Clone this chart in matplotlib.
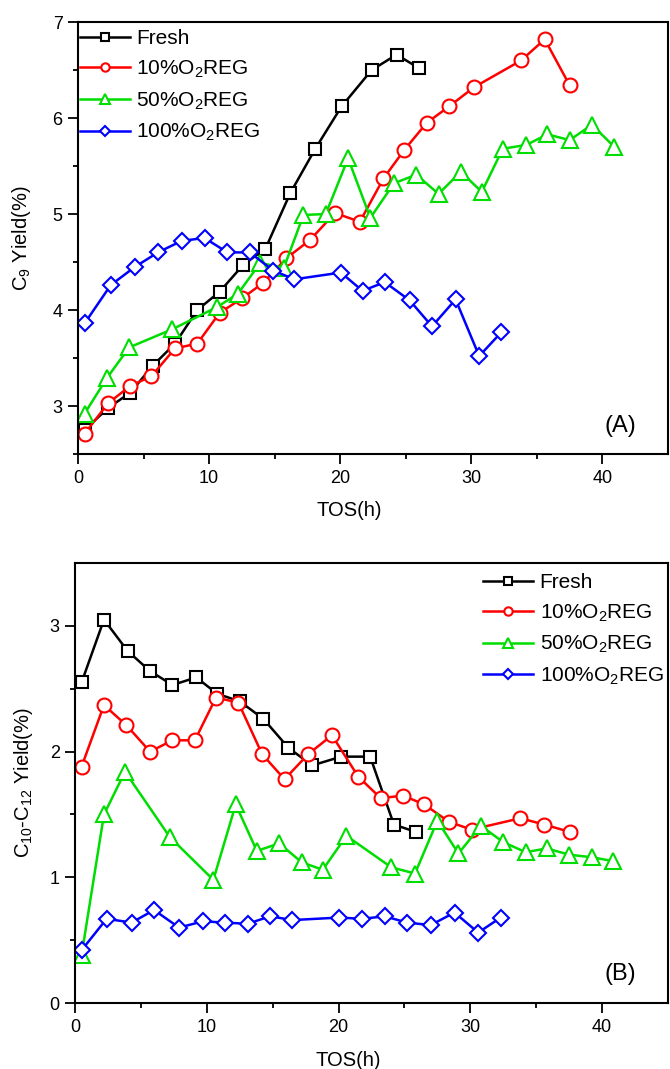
import numpy as np
import matplotlib
matplotlib.use("Agg")
import matplotlib.pyplot as plt

plt.rcParams['font.family'] = ['Liberation Sans', 'DejaVu Sans']
plt.rcParams['mathtext.default'] = 'regular'

labels = ['Fresh', '10%O$_2$REG', '50%O$_2$REG', '100%O$_2$REG']
colors = ['black', 'red', '#00dd00', '#0000ff']
markers = ['s', 'o', '^', 'D']
msizes = [9, 10, 11, 8.5]

# (A) C9 yield vs time on stream
c9_fresh_t = [0.5, 2.3, 4.0, 5.7, 7.4, 9.1, 10.8, 12.6, 14.3, 16.2, 18.1, 20.1, 22.4, 24.3, 26.0]
c9_fresh = [2.75, 2.98, 3.14, 3.42, 3.65, 4.0, 4.19, 4.47, 4.64, 5.22, 5.68, 6.12, 6.5, 6.66, 6.52]
c9_10_t = [0.5, 2.3, 4.0, 5.6, 7.4, 9.1, 10.8, 12.5, 14.1, 15.9, 17.7, 19.6, 21.5, 23.3,
           24.9, 26.6, 28.3, 30.2, 33.8, 35.6, 37.5]
c9_10 = [2.71, 3.03, 3.21, 3.31, 3.6, 3.65, 3.97, 4.12, 4.28, 4.54, 4.73, 5.01, 4.92, 5.37,
         5.67, 5.95, 6.12, 6.32, 6.6, 6.82, 6.34]
c9_50_t = [0.5, 2.2, 3.9, 7.2, 10.6, 12.2, 13.9, 15.7, 17.2, 18.9, 20.6, 22.3, 24.1, 25.8,
           27.5, 29.2, 30.8, 32.4, 34.2, 35.8, 37.5, 39.2, 40.9]
c9_50 = [2.92, 3.29, 3.61, 3.8, 4.03, 4.17, 4.49, 4.44, 4.99, 5.0, 5.58, 4.96, 5.32, 5.41,
         5.21, 5.44, 5.23, 5.68, 5.72, 5.83, 5.77, 5.93, 5.7]
c9_100_t = [0.5, 2.5, 4.35, 6.1, 7.9, 9.65, 11.4, 13.1, 14.9, 16.5, 20.05, 21.7, 23.4,
            25.3, 27.0, 28.8, 30.6, 32.3]
c9_100 = [3.86, 4.26, 4.45, 4.6, 4.72, 4.75, 4.6, 4.6, 4.41, 4.32, 4.39, 4.2, 4.29,
          4.1, 3.83, 4.11, 3.52, 3.77]

# (B) C10-C12 yield vs time on stream
c10_fresh_t = [0.5, 2.2, 4.0, 5.7, 7.4, 9.2, 10.8, 12.5, 14.3, 16.2, 18.0, 20.2, 22.4, 24.2, 25.9]
c10_fresh = [2.55, 3.05, 2.8, 2.64, 2.53, 2.59, 2.46, 2.4, 2.26, 2.03, 1.89, 1.96, 1.96, 1.42, 1.36]
c10_10_t = [0.5, 2.2, 3.9, 5.7, 7.4, 9.1, 10.7, 12.4, 14.2, 15.9, 17.7, 19.5, 21.5, 23.2,
            24.9, 26.5, 28.4, 30.1, 33.8, 35.6, 37.6]
c10_10 = [1.88, 2.37, 2.21, 2.0, 2.09, 2.09, 2.43, 2.39, 1.98, 1.78, 1.98, 2.13, 1.8, 1.63,
          1.65, 1.58, 1.44, 1.38, 1.47, 1.42, 1.36]
c10_50_t = [0.5, 2.2, 3.8, 7.2, 10.5, 12.2, 13.8, 15.5, 17.2, 18.8, 20.6, 24.0, 25.8, 27.5,
            29.1, 30.8, 32.5, 34.2, 35.8, 37.5, 39.2, 40.8]
c10_50 = [0.38, 1.5, 1.84, 1.32, 0.98, 1.58, 1.21, 1.27, 1.12, 1.06, 1.33, 1.08, 1.03, 1.45,
          1.19, 1.41, 1.28, 1.2, 1.23, 1.18, 1.16, 1.13]
c10_100_t = [0.5, 2.4, 4.3, 6.0, 7.9, 9.7, 11.4, 13.1, 14.8, 16.5, 20.05, 21.8, 23.5,
             25.2, 27.0, 28.8, 30.6, 32.3]
c10_100 = [0.42, 0.67, 0.64, 0.74, 0.6, 0.65, 0.64, 0.63, 0.69, 0.66, 0.68, 0.67, 0.69,
           0.64, 0.62, 0.72, 0.56, 0.68]

top_series = [(c9_fresh_t, c9_fresh), (c9_10_t, c9_10), (c9_50_t, c9_50), (c9_100_t, c9_100)]
bot_series = [(c10_fresh_t, c10_fresh), (c10_10_t, c10_10), (c10_50_t, c10_50), (c10_100_t, c10_100)]

fig = plt.figure(figsize=(6.7, 10.69), dpi=100)
ax1 = fig.add_axes([0.1164, 0.5753, 0.8806, 0.4041])
ax2 = fig.add_axes([0.1119, 0.0617, 0.8851, 0.4116])


def draw(ax, series):
    for (t, y), lab, c, m, ms in zip(series, labels, colors, markers, msizes):
        ax.plot(t, y, color=c, lw=1.8, marker=m, ms=ms, mfc='white', mec=c,
                mew=1.5, label=lab)
    ax.set_xlim(0, 45)
    ax.set_xticks([0, 10, 20, 30, 40])
    ax.set_xticks([5, 15, 25, 35], minor=True)
    ax.tick_params(which='both', direction='out', top=False, right=False,
                   labelsize=13, width=1.3)
    ax.tick_params(which='major', length=7)
    ax.tick_params(which='minor', length=3.5)
    ax.tick_params(axis='x', which='major', pad=4.5)
    ax.tick_params(axis='y', which='major', pad=4)
    for s in ax.spines.values():
        s.set_linewidth(1.5)
    ax.set_xlabel('TOS(h)', fontsize=14.5)
    ax.xaxis.set_label_coords(0.46, -0.108)


draw(ax1, top_series)
ax1.set_ylim(2.5, 7)
ax1.set_yticks([3, 4, 5, 6, 7])
ax1.set_yticks([2.5, 3.5, 4.5, 5.5, 6.5], minor=True)
ax1.set_ylabel('C$_9$ Yield(%)', fontsize=14.5)
ax1.yaxis.set_label_coords(-0.076, 0.5)
ax1.text(0.92, 0.065, '(A)', transform=ax1.transAxes, fontsize=17,
         ha='center', va='center')
ax1.legend(loc='upper left', bbox_to_anchor=(-0.018, 1.012), frameon=False,
           fontsize=15, markerscale=0.6, handlelength=2.4, handletextpad=0.3,
           labelspacing=0.5, borderaxespad=0.2)

draw(ax2, bot_series)
ax2.set_ylim(0, 3.5)
ax2.set_yticks([0, 1, 2, 3])
ax2.set_yticks([0.5, 1.5, 2.5], minor=True)
ax2.set_ylabel('C$_{10}$-C$_{12}$ Yield(%)', fontsize=14.5)
ax2.yaxis.set_label_coords(-0.067, 0.5)
ax2.text(0.92, 0.065, '(B)', transform=ax2.transAxes, fontsize=17,
         ha='center', va='center')
ax2.legend(loc='upper right', bbox_to_anchor=(1.014, 1.006), frameon=False,
           fontsize=15, markerscale=0.6, handlelength=2.4, handletextpad=0.3,
           labelspacing=0.5, borderaxespad=0.2)

fig.savefig('out.png', dpi=100)
